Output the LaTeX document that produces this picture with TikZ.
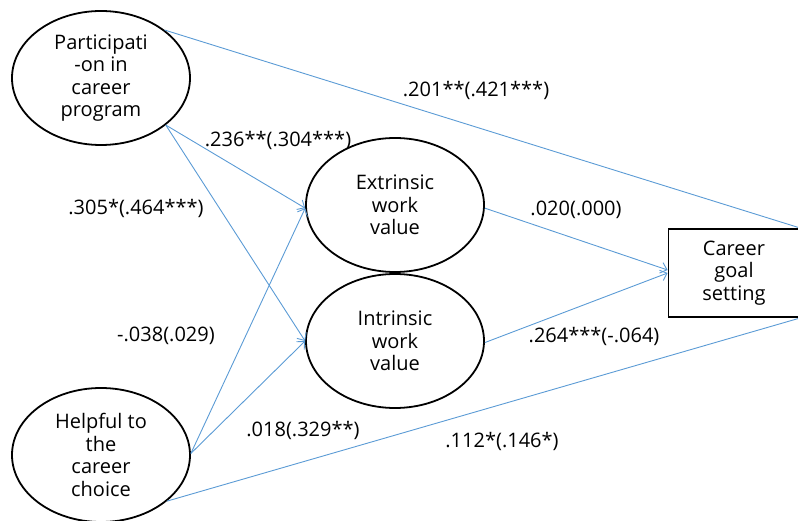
\documentclass[tikz,border=0pt]{standalone}
\usepackage{fontspec}
\setmainfont{Open Sans}
\usetikzlibrary{arrows.meta,shapes.geometric}
\definecolor{pathblue}{HTML}{5B9BD5}

\begin{document}
\begin{tikzpicture}
    [x=1pt, y=-1pt,
     >={Straight Barb[length=6pt, width=11pt, line width=0.9pt]},  % open arrow heads
     latent/.style={ellipse, draw=black, line width=1.8pt, minimum width=178pt, minimum height=134pt, inner sep=0pt, align=center, font=\fontsize{20}{22.6}\selectfont},
     observed/.style={rectangle, draw=black, line width=1.8pt, minimum width=131pt, minimum height=88pt, align=center, font=\fontsize{20}{22.6}\selectfont},
     effect/.style={draw=pathblue, line width=0.9pt},
     coef/.style={inner sep=0pt, font=\fontsize{20}{22}\selectfont},
    ]

\useasboundingbox (0,0) rectangle (798,521);

% latent variables
\node[latent] (node_part) at (101,78) {Participati\\-on in\\career\\program};
\node[latent] (node_help) at (101,455) {Helpful to\\the\\career\\choice};
\node[latent] (node_extr) at (395,205) {Extrinsic\\work\\value};
\node[latent] (node_intr) at (395,341) {Intrinsic\\work\\value};
% outcome
\node[observed] (node_goal) at (734,273) {Career\\goal\\setting};

% paths
\draw[effect,->] (node_part.-36) -- (node_extr.182);
\draw[effect,->] (node_part.-36) -- (node_intr.west);
\draw[effect,->] (node_help.1) -- (node_extr.182);
\draw[effect,->] (node_help.1) -- (node_intr.west);
\draw[effect,->] (node_extr.-2) -- ([yshift=3pt]node_goal.west);
\draw[effect,->] (node_intr.-1) -- (node_goal.west);
\draw[effect] (node_part.37) -- (node_goal.north east);
\draw[effect] (node_help.-35) -- (node_goal.south east);

% coefficients
\node[coef] (c_part_goal) at (476,90) {.201**(.421***)};
\node[coef] (c_part_extr) at (278,140) {.236**(.304***)};
\node[coef] (c_part_intr) at (136,208) {.305*(.464***)};
\node[coef] (c_extr_goal) at (576,210) {.020(.000)};
\node[coef] (c_help_extr) at (166,336) {-.038(.029)};
\node[coef] (c_intr_goal) at (594,336) {.264***(-.064)};
\node[coef] (c_help_intr) at (303,430) {.018(.329**)};
\node[coef] (c_help_goal) at (502,441) {.112*(.146*)};

\end{tikzpicture}
\end{document}
